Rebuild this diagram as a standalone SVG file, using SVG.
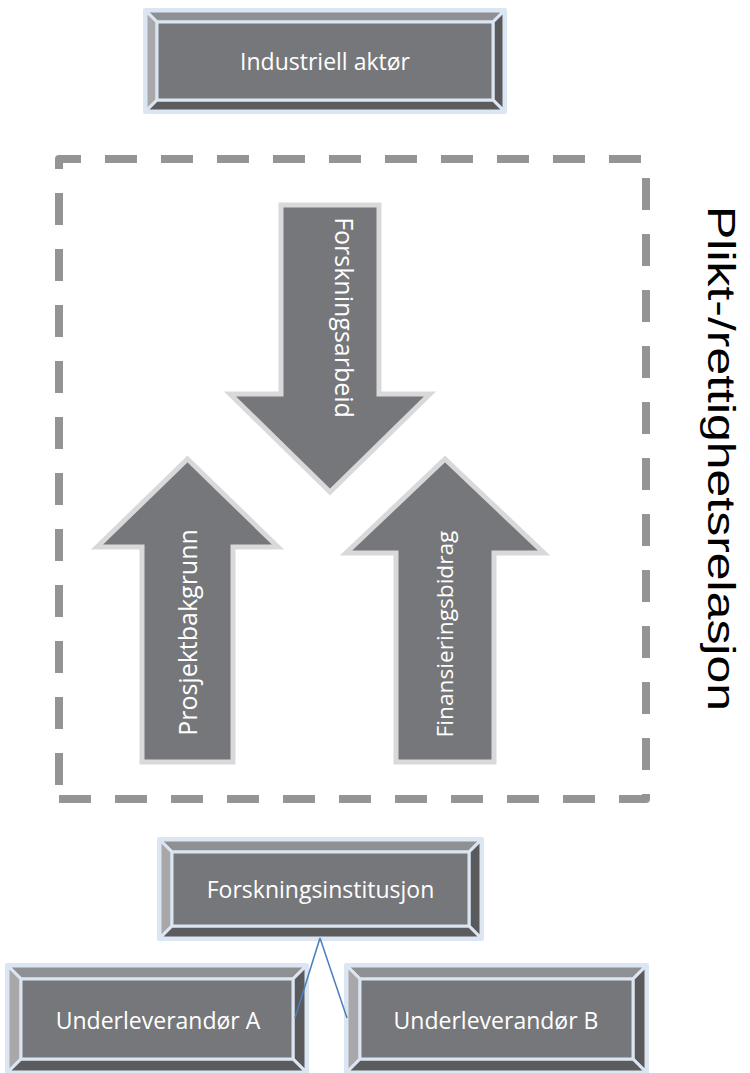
<svg xmlns="http://www.w3.org/2000/svg" width="750" height="1073" viewBox="0 0 750 1073">
  <style>
    .frame { fill: #dce6f2; }
    .bev { stroke: #dce6f2; stroke-width: 3; stroke-linejoin: round; }
    .bt { fill: #8f9094; }
    .bl { fill: #a8a8ab; }
    .br { fill: #5a5a5d; }
    .bb { fill: #5c5c5f; }
    .face { fill: #76777b; stroke: #dce6f2; stroke-width: 3; }
    .lbl { font-family: "Open Sans", "Noto Sans", sans-serif; font-size: 23px; fill: #ffffff; text-anchor: middle; }
    .arrow { fill: #76777b; stroke: #d9d9db; stroke-width: 5; stroke-linejoin: miter; }
    .alb { font-family: "Open Sans", "Noto Sans", sans-serif; font-size: 25px; fill: #ffffff; text-anchor: middle; }
    .dash { fill: none; stroke: #949497; stroke-width: 8; stroke-dasharray: 32 24; stroke-linejoin: round; }
    .link { fill: none; stroke: #4a7ebb; stroke-width: 1.5; }
  </style>

  <!-- Industriell aktør -->
  <g id="industriell-aktor">
    <rect class="frame" x="143" y="8" width="364" height="106" rx="2"/>
    <polygon class="bev bt" points="146,11 504,11 493,22 157,22"/>
    <polygon class="bev bl" points="146,11 157,22 157,100 146,111"/>
    <polygon class="bev br" points="504,11 504,111 493,100 493,22"/>
    <polygon class="bev bb" points="146,111 157,100 493,100 504,111"/>
    <rect class="face" x="157" y="22" width="336" height="78"/>
    <text class="lbl" x="325" y="70">Industriell aktør</text>
  </g>

  <!-- dashed boundary of the obligation/rights relation -->
  <g id="relasjon-ramme">
    <path class="dash" d="M59,169 V159 H646 V799 H59"/>
    <path class="dash" style="stroke-dashoffset:42" d="M59,799 V169"/>
  </g>

  <!-- Forskningsarbeid (down) -->
  <g id="forskningsarbeid">
    <polygon class="arrow" points="281,205 379,205 379,394 430,394 330,492 230,394 281,394"/>
    <text class="alb" transform="translate(335,317.5) rotate(90)">Forskningsarbeid</text>
  </g>

  <!-- Prosjektbakgrunn (up) -->
  <g id="prosjektbakgrunn">
    <polygon class="arrow" points="187.5,459 278,547 233,547 233,762 142,762 142,547 97,547"/>
    <text class="alb" transform="translate(197,632.5) rotate(-90)">Prosjektbakgrunn</text>
  </g>

  <!-- Finansieringsbidrag (up) -->
  <g id="finansieringsbidrag">
    <polygon class="arrow" points="445,459 544,553 494,553 494,762 396,762 396,553 346,553"/>
    <text class="alb" style="font-size:22.7px" transform="translate(453,634) rotate(-90)">Finansieringsbidrag</text>
  </g>

  <!-- side caption -->
  <g id="plikt-rettighetsrelasjon">
    <text transform="translate(708,206) rotate(90)" font-family="'Liberation Sans', Arial, sans-serif" font-size="38" fill="#000000" textLength="505" lengthAdjust="spacingAndGlyphs">Plikt-/rettighetsrelasjon</text>
  </g>

  <!-- Forskningsinstitusjon -->
  <g id="forskningsinstitusjon">
    <rect class="frame" x="157" y="837" width="327" height="104" rx="2"/>
    <polygon class="bev bt" points="160,840 481,840 469,852 172,852"/>
    <polygon class="bev bl" points="160,840 172,852 172,926 160,938"/>
    <polygon class="bev br" points="481,840 481,938 469,926 469,852"/>
    <polygon class="bev bb" points="160,938 172,926 469,926 481,938"/>
    <rect class="face" x="172" y="852" width="297" height="74"/>
    <text class="lbl" x="320.5" y="898">Forskningsinstitusjon</text>
  </g>

  <!-- Underleverandør A -->
  <g id="underleverandor-a">
    <rect class="frame" x="5" y="963" width="304" height="112" rx="2"/>
    <polygon class="bev bt" points="8,966 306,966 293,979 21,979"/>
    <polygon class="bev bl" points="8,966 21,979 21,1059 8,1072"/>
    <polygon class="bev br" points="306,966 306,1072 293,1059 293,979"/>
    <polygon class="bev bb" points="8,1072 21,1059 293,1059 306,1072"/>
    <rect class="face" x="21" y="979" width="272" height="80"/>
    <text class="lbl" x="158" y="1029">Underleverandør A</text>
  </g>

  <!-- Underleverandør B -->
  <g id="underleverandor-b">
    <rect class="frame" x="344" y="963" width="305" height="112" rx="2"/>
    <polygon class="bev bt" points="347,966 646,966 633,979 360,979"/>
    <polygon class="bev bl" points="347,966 360,979 360,1059 347,1072"/>
    <polygon class="bev br" points="646,966 646,1072 633,1059 633,979"/>
    <polygon class="bev bb" points="347,1072 360,1059 633,1059 646,1072"/>
    <rect class="face" x="360" y="979" width="273" height="80"/>
    <text class="lbl" x="496" y="1029">Underleverandør B</text>
  </g>

  <!-- connectors -->
  <g id="connectors">
    <line class="link" x1="320" y1="938" x2="295" y2="1018"/>
    <line class="link" x1="320" y1="938" x2="347" y2="1018"/>
  </g>
</svg>
